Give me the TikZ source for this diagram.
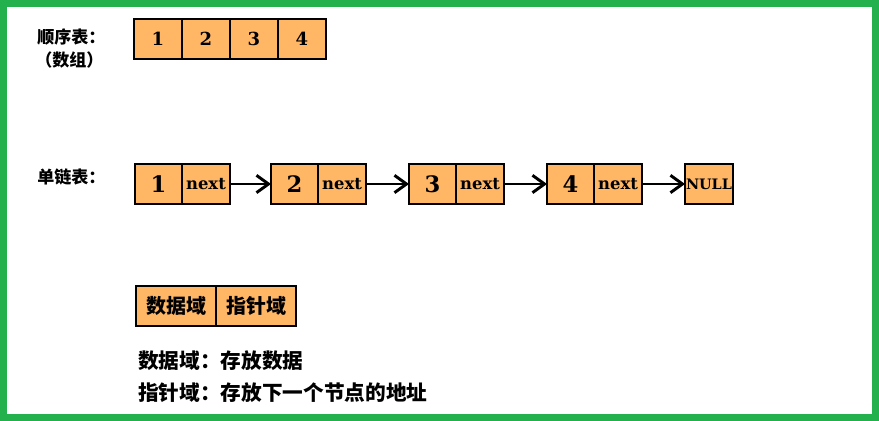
\documentclass[tikz,border=0pt]{standalone}
\usepackage{fontspec}
\newfontfamily\cjk{Noto Sans CJK SC}
\newfontfamily\serifbold{DejaVu Serif}
\usepackage{tikz}
\usetikzlibrary{arrows.meta,positioning}
\definecolor{cellorange}{HTML}{FFB766}
\definecolor{framegreen}{HTML}{22B14C}

\begin{document}
\begin{tikzpicture}[
  x=0.75pt,y=-0.75pt,
  cell/.style={draw=black,line width=0.9pt,fill=cellorange,minimum width=36pt,minimum height=30pt,inner sep=0pt,outer sep=0pt},
  arrcell/.style={cell,font=\serifbold\fontsize{13.5}{13.5}\selectfont\bfseries},
  datacell/.style={cell,minimum width=35.25pt,font=\serifbold\fontsize{17}{17}\selectfont\bfseries},
  nextcell/.style={cell,font=\serifbold\fontsize{12.3}{12.3}\selectfont\bfseries},
  fieldcell/.style={cell,line width=1.3pt,minimum width=60pt,font=\cjk\fontsize{15}{15}\selectfont\bfseries},
  tag/.style={anchor=west,inner sep=0pt,font=\cjk\fontsize{12.8}{12.8}\selectfont\bfseries},
  note/.style={anchor=west,inner sep=0pt,font=\cjk\fontsize{15.5}{15.5}\selectfont\bfseries},
  link/.style={-{Straight Barb[length=9pt,width=13pt]},line width=2.2pt,draw=black}
]
\useasboundingbox (0,0) rectangle (879,421);
\draw[framegreen,line width=5.25pt] (3.5,3.5) rectangle (875.5,417.5);

% sequential table
\node[tag] (seqlabel) at (37,37) {顺序表：};
\node[tag] (seqnote) at (35,60) {（数组）};
\node[arrcell,anchor=north west] (a1) at (134,19) {1};
\node[arrcell,right=0pt of a1] (a2) {2};
\node[arrcell,right=0pt of a2] (a3) {3};
\node[arrcell,right=0pt of a3] (a4) {4};

% singly linked list
\node[tag] (listlabel) at (37,177) {单链表：};
\node[datacell,anchor=north west] (d1) at (135,164) {1};
\node[nextcell,right=0pt of d1] (p1) {next};
\node[datacell,anchor=north west] (d2) at (271,164) {2};
\node[nextcell,right=0pt of d2] (p2) {next};
\node[datacell,anchor=north west] (d3) at (409,164) {3};
\node[nextcell,right=0pt of d3] (p3) {next};
\node[datacell,anchor=north west] (d4) at (547,164) {4};
\node[nextcell,right=0pt of d4] (p4) {next};
\node[cell,anchor=north west,font=\serifbold\fontsize{10.8}{10.8}\selectfont\bfseries] (null) at (685,164) {NULL};
\draw[link] (p1) -- (d2);
\draw[link] (p2) -- (d3);
\draw[link] (p3) -- (d4);
\draw[link] (p4) -- (null);

% node layout
\node[fieldcell,anchor=north west] (datafield) at (136,286) {数据域};
\node[fieldcell,right=0pt of datafield] (ptrfield) {指针域};
\node[note] (datanote) at (138,361) {数据域：存放数据};
\node[note] (ptrnote) at (138,393) {指针域：存放下一个节点的地址};
\end{tikzpicture}
\end{document}
